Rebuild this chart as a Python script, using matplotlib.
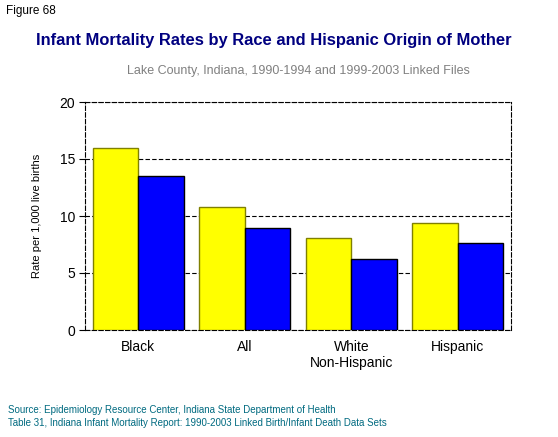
import numpy as np
import matplotlib
matplotlib.use("Agg")
import matplotlib.pyplot as plt

plt.rcParams['font.family'] = ['Liberation Sans', 'DejaVu Sans']

categories = ["Black", "All", "White\nNon-Hispanic", "Hispanic"]
rates_1990_1994 = [16.0, 10.8, 8.1, 9.4]
rates_1999_2003 = [13.5, 8.95, 6.2, 7.6]

fig = plt.figure(figsize=(5.58, 4.37), dpi=100)
ax = fig.add_axes([85/558, 1 - 330/437, 426/558, 228/437])

x = np.arange(len(categories))
w = 0.427
ax.bar(x - w/2, rates_1990_1994, w, color="#ffff00", edgecolor="#808000", linewidth=1, zorder=3)
ax.bar(x + w/2, rates_1999_2003, w, color="#0000ff", edgecolor="#000000", linewidth=1, zorder=3)

ax.set_xlim(-0.5, 3.5)
ax.set_ylim(0, 20)
ax.set_yticks([0, 5, 10, 15, 20])
ax.set_xticks(x)
ax.set_xticklabels(categories, fontsize=10)
ax.tick_params(axis='y', labelsize=10, length=4, direction='out', pad=3)
ax.tick_params(axis='x', length=0, pad=7)
ax.yaxis.grid(True, linestyle=(0, (4, 2)), color="black", linewidth=0.8, zorder=0)
for s in ax.spines.values():
    s.set_linestyle((0, (4, 2)))
    s.set_linewidth(0.8)
ax.set_ylabel("Rate per 1,000 live births", fontsize=8, labelpad=13)

fig.text(6/558, 1 - 11/437, "Figure 68", fontsize=8.5, va="center", ha="left")
fig.text(273.5/558, 1 - 40/437, "Infant Mortality Rates by Race and Hispanic Origin of Mother",
         fontsize=11.85, fontweight="bold", color="#000080", ha="center", va="center")
fig.text(298/558, 1 - 71/437, "Lake County, Indiana, 1990-1994 and 1999-2003 Linked Files",
         fontsize=9, color="#808080", ha="center", va="center")
fig.text(8/558, 1 - 410/437, "Source: Epidemiology Resource Center, Indiana State Department of Health",
         fontsize=7, color="#006a80", ha="left", va="center")
fig.text(8/558, 1 - 423/437, "Table 31, Indiana Infant Mortality Report: 1990-2003 Linked Birth/Infant Death Data Sets",
         fontsize=7, color="#006a80", ha="left", va="center")

fig.savefig("out.png", dpi=100)
